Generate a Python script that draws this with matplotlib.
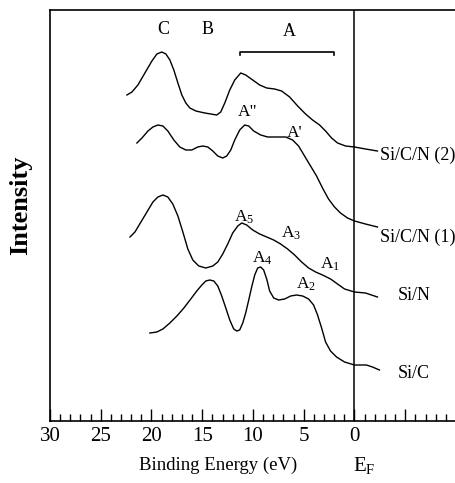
import numpy as np
import matplotlib
matplotlib.use('Agg')
import matplotlib.pyplot as plt

plt.rcParams['font.family'] = ['Liberation Serif', 'DejaVu Serif']
plt.rcParams['mathtext.fontset'] = 'custom'
plt.rcParams['mathtext.rm'] = 'Liberation Serif'
plt.rcParams['mathtext.it'] = 'Liberation Serif:italic'
plt.rcParams['mathtext.bf'] = 'Liberation Serif:bold'

# binding energy (eV) and intensity (arb. units)
sicn2_e = [22.42, 21.93, 21.34, 20.65, 19.96, 19.47, 18.98, 18.58, 18.19, 17.80,
           17.40, 17.01, 16.62, 16.22, 15.63, 14.75, 13.57, 13.18, 12.78, 12.29,
           11.80, 11.21, 10.72, 10.03, 9.34, 8.65, 7.87, 7.18, 6.39, 5.60,
           4.82, 4.13, 3.44, 2.85, 2.26, 1.67, 0.88, 0.0, -1.08, -2.26]
sicn2_i = [326, 329, 336, 348, 360, 367, 369, 367, 361, 351,
           338, 326, 318, 313, 310, 308, 306, 309, 318, 331,
           341, 348, 346, 341, 336, 333, 332, 330, 324, 315,
           307, 301, 296, 290, 283, 278, 275, 274, 272, 270]

sicn1_e = [21.44, 20.94, 20.35, 19.86, 19.37, 18.88, 18.39, 17.80, 17.21, 16.62,
           16.03, 15.44, 14.95, 14.45, 13.96, 13.47, 12.98, 12.59, 12.19, 11.80,
           11.31, 10.82, 10.42, 9.93, 9.24, 8.55, 7.67, 6.78, 6.10, 5.51,
           4.92, 4.33, 3.74, 3.15, 2.56, 1.97, 1.38, 0.69, 0.0, -1.08, -2.26]
sicn1_i = [278, 283, 290, 294, 296, 295, 290, 281, 274, 271,
           271, 274, 275, 274, 270, 265, 263, 265, 271, 281,
           291, 296, 295, 290, 286, 284, 284, 284, 281, 275,
           265, 255, 245, 233, 222, 214, 208, 203, 200, 197, 194]

sin_e = [22.12, 21.63, 21.04, 20.45, 19.86, 19.37, 18.88, 18.39, 17.90, 17.40,
         16.91, 16.42, 15.93, 15.34, 14.65, 13.96, 13.47, 12.98, 12.49, 12.00,
         11.50, 11.11, 10.62, 10.03, 9.34, 8.65, 7.96, 7.28, 6.59, 5.90,
         5.21, 4.52, 3.83, 3.15, 2.36, 1.67, 0.98, 0.0, -1.08, -2.26]
sin_i = [184, 189, 199, 209, 219, 224, 226, 224, 217, 205,
         189, 172, 161, 155, 153, 155, 159, 167, 177, 188,
         195, 198, 196, 191, 187, 184, 181, 177, 172, 166,
         159, 153, 149, 146, 142, 137, 132, 129, 128, 124]

sic_e = [20.16, 19.47, 18.88, 18.19, 17.50, 16.81, 16.13, 15.54, 15.04, 14.65,
         14.26, 13.86, 13.47, 13.08, 12.68, 12.29, 11.90, 11.60, 11.31, 11.01,
         10.72, 10.42, 10.13, 9.83, 9.54, 9.24, 8.95, 8.65, 8.36, 7.96,
         7.47, 6.88, 6.29, 5.70, 5.11, 4.52, 4.03, 3.64, 3.24, 2.85,
         2.36, 1.77, 0.98, 0.0, -1.18, -1.77, -2.46]
sic_i = [88, 89, 92, 98, 105, 113, 122, 130, 136, 140,
         141, 140, 135, 125, 113, 101, 92, 90, 91, 98,
         108, 121, 134, 146, 153, 154, 151, 142, 130, 123,
         121, 122, 125, 126, 125, 122, 116, 106, 93, 79,
         70, 64, 59, 56, 56, 54, 51]

curve_names = ['Si/C/N (2)', 'Si/C/N (1)', 'Si/N', 'Si/C']
name_x = [-2.56, -2.56, -4.23, -4.23]
name_y = [266, 184, 126, 48]

peak_labels = ['A"', "A'", r'$\mathrm{A_5}$', r'$\mathrm{A_3}$',
               r'$\mathrm{A_1}$', r'$\mathrm{A_4}$', r'$\mathrm{A_2}$']
peak_x = [10.52, 5.90, 10.92, 6.29, 2.36, 9.05, 4.82]
peak_y = [309, 288, 204, 188, 157, 163, 137]

fig = plt.figure(figsize=(4.56, 4.83), dpi=100)
ax = fig.add_axes([50 / 456, 62 / 483, 1 - 50 / 456, 411 / 483])

for e, i in [(sicn2_e, sicn2_i), (sicn1_e, sicn1_i), (sin_e, sin_i), (sic_e, sic_i)]:
    ax.plot(e, i, color='black', lw=1.0)

ax.axvline(0, color='black', lw=1.1)

for name, x, y in zip(curve_names, name_x, name_y):
    ax.text(x, y, name, fontsize=13, ha='left', va='center')

for lab, x, y in zip(peak_labels, peak_x, peak_y):
    ax.text(x, y, lab, fontsize=12.5, ha='center', va='center')

# region labels at the top
ax.text(18.88, 391, 'C', fontsize=13, ha='center', va='center')
ax.text(14.45, 391, 'B', fontsize=13, ha='center', va='center')
ax.text(6.39, 389, 'A', fontsize=13, ha='center', va='center')
ax.plot([11.3, 11.3, 2.0, 2.0], [366, 369, 369, 366], color='black', lw=1.2)

ax.set_xlim(30, -9.93)
ax.set_ylim(0, 411)
ax.set_yticks([])
ax.set_xticks(range(30, -11, -5))
ax.set_xticklabels(['30', '25', '20', '15', '10', '5', '0', '', ''])
ax.set_xticks(np.arange(30, -10, -1), minor=True)
ax.tick_params(axis='x', which='major', direction='in', length=9, width=1.0,
               labelsize=15, pad=4)
ax.tick_params(axis='x', which='minor', direction='in', length=5, width=1.0)
ax.spines['right'].set_visible(False)
for s in ['left', 'top', 'bottom']:
    ax.spines[s].set_linewidth(1.2)

fig.text(218 / 456, 1 - 465 / 483, 'Binding Energy (eV)', fontsize=13.5,
         ha='center', va='center')
fig.text(353 / 456, 1 - 465 / 483, r'$\mathrm{E_F}$', fontsize=15,
         ha='left', va='center')
fig.text(21 / 456, 1 - 205 / 483, 'Intensity', fontsize=19, fontweight='bold',
         rotation=90, ha='center', va='center')

fig.savefig('out.png', dpi=100)
